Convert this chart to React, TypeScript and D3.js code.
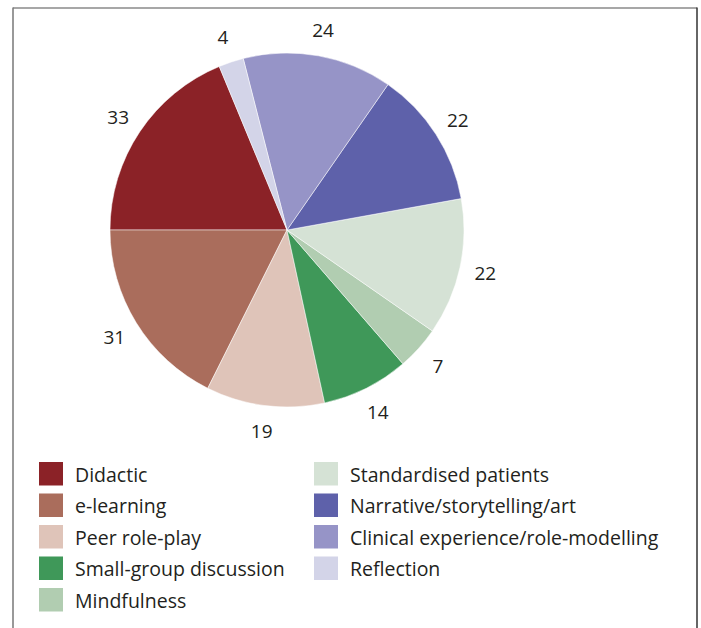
import React from "react";
import * as d3 from "d3";

const categories = [
  "Didactic",
  "e-learning",
  "Peer role-play",
  "Small-group discussion",
  "Mindfulness",
  "Standardised patients",
  "Narrative/storytelling/art",
  "Clinical experience/role-modelling",
  "Reflection",
];
const counts = [33, 31, 19, 14, 7, 22, 22, 24, 4];
const colors = [
  "#8b2227",
  "#aa6d5c",
  "#dfc4b9",
  "#3f9859",
  "#b1cdb1",
  "#d5e2d5",
  "#5e61aa",
  "#9694c7",
  "#d3d4e8",
];

const W = 701;
const H = 628;
const cx = 287;
const cy = 230;
const R = 177;
const LR = 203;
const FONT = "'Open Sans', 'Noto Sans', sans-serif";

type Item = { c: string; v: number; col: string };

export default function App() {
  const items: Item[] = categories.map((c, i) => ({ c, v: counts[i], col: colors[i] }));
  const total = d3.sum(counts);
  // slices run counter-clockwise; the first slice ends at 9 o'clock
  const start = -Math.PI / 2 + (2 * Math.PI * counts[0]) / total;
  const pie = d3
    .pie<Item>()
    .sort(null)
    .value((d) => d.v)
    .startAngle(start)
    .endAngle(start - 2 * Math.PI);
  const arcs = pie(items);
  const arc = d3.arc<d3.PieArcDatum<Item>>().innerRadius(0).outerRadius(R);
  const labelArc = d3.arc<d3.PieArcDatum<Item>>().innerRadius(LR).outerRadius(LR);

  const legendY = d3.scaleLinear().domain([0, 1]).range([462, 493.5]);
  const nCol1 = 5;

  return (
    <svg
      width={W}
      height={H}
      style={{ position: "absolute", left: 0, top: 0, background: "#fff" }}
    >
      <rect x={0} y={0} width={W} height={H} fill="#fff" />
      <line x1={13} y1={8} x2={697} y2={8} stroke="#8a8a8a" strokeWidth={1.5} />
      <line x1={13} y1={7.5} x2={13} y2={H} stroke="#777" strokeWidth={1.5} />
      <line x1={697} y1={7.5} x2={697} y2={H} stroke="#333" strokeWidth={1.5} />
      <g transform={`translate(${cx},${cy})`}>
        {arcs.map((a, i) => (
          <path
            key={i}
            d={arc(a) || ""}
            fill={a.data.col}
            stroke="#fff"
            strokeWidth={0.5}
          />
        ))}
        {arcs.map((a, i) => {
          const [x, y] = labelArc.centroid(a);
          return (
            <text
              key={"l" + i}
              x={x}
              y={y}
              textAnchor="middle"
              dominantBaseline="central"
              fontFamily={FONT}
              fontSize={19}
              fill="#231f20"
            >
              {a.data.v}
            </text>
          );
        })}
      </g>
      {items.map((d, i) => {
        const col = i < nCol1 ? 0 : 1;
        const row = i < nCol1 ? i : i - nCol1;
        const x = col === 0 ? 39 : 314;
        const y = legendY(row);
        return (
          <g key={"g" + i}>
            <rect x={x} y={y} width={24} height={23.5} fill={d.col} />
            <text
              x={x + 36}
              y={y + 12}
              dominantBaseline="central"
              fontFamily={FONT}
              fontSize={19.5}
              fill="#231f20"
            >
              {d.c}
            </text>
          </g>
        );
      })}
    </svg>
  );
}
